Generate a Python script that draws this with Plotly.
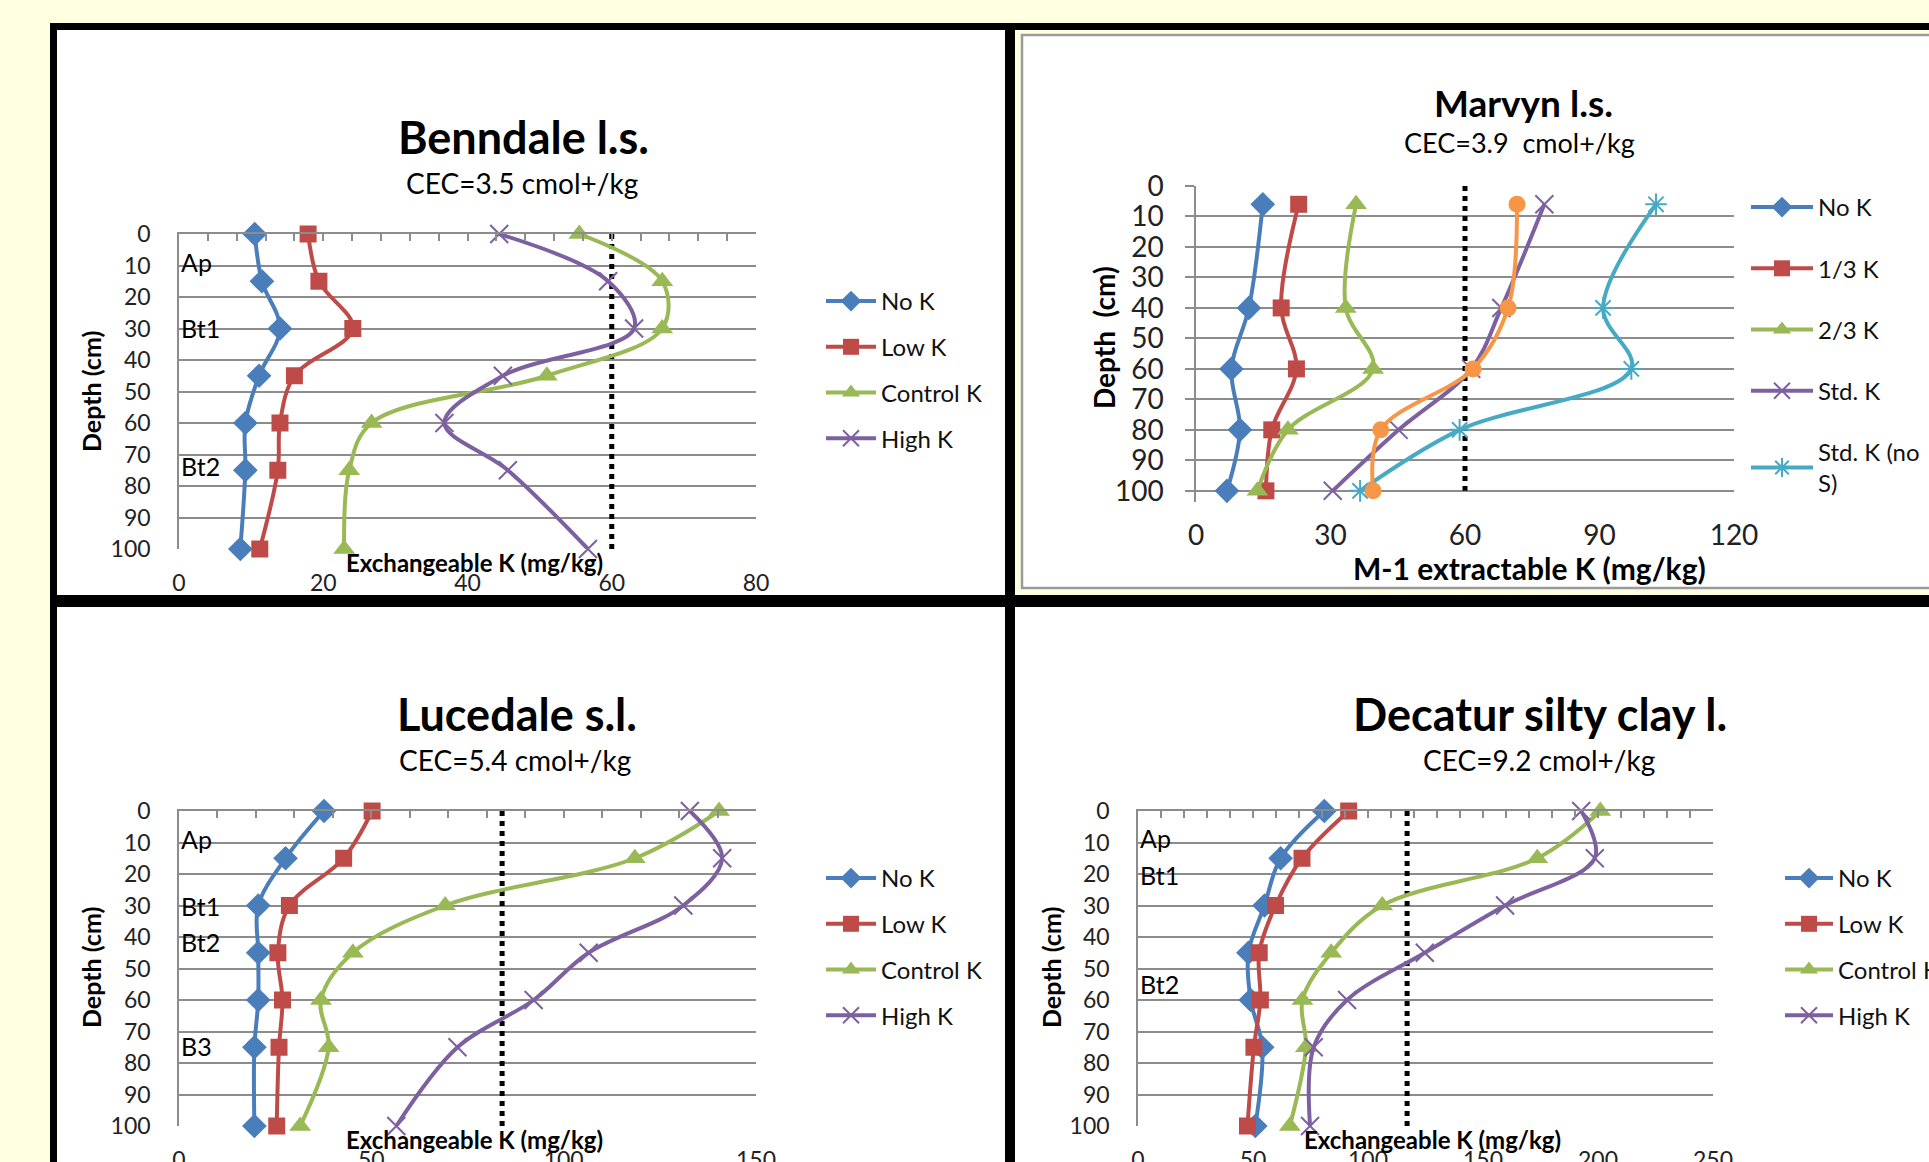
import plotly.graph_objects as go

W, H = 1929, 1162
FONT = "Lato, 'Open Sans', sans-serif"

# ---------------- data ----------------
depth_std = [0, 15, 30, 45, 60, 75, 100]
marvyn_depth = [6, 40, 60, 80, 100]

benndale_no_k = [10.5, 11.5, 14.0, 11.1, 9.2, 9.2, 8.5]
benndale_low_k = [17.9, 19.4, 24.1, 16.0, 14.0, 13.7, 11.2]
benndale_control_k = [55.5, 67.0, 67.0, 51.0, 26.7, 23.6, 22.9]
benndale_high_k = [44.4, 59.5, 63.1, 44.9, 36.8, 45.6, 56.7]

lucedale_no_k = [37.7, 27.7, 20.6, 20.6, 20.6, 19.6, 19.6]
lucedale_low_k = [50.2, 42.8, 28.7, 25.7, 26.9, 26.0, 25.4]
lucedale_control_k = [140.4, 118.5, 69.2, 45.2, 36.9, 38.9, 31.5]
lucedale_high_k = [132.8, 141.2, 131.1, 106.5, 92.2, 72.4, 56.5]

decatur_no_k = [81.0, 62.0, 55.0, 48.0, 49.0, 54.0, 51.0]
decatur_low_k = [91.6, 71.3, 59.8, 52.7, 53.2, 50.4, 47.6]
decatur_control_k = [201.0, 173.6, 106.2, 84.0, 71.5, 73.0, 66.0]
decatur_high_k = [192.7, 198.6, 159.6, 124.7, 90.9, 76.4, 74.8]

marvyn_no_k = [14.9, 11.8, 7.9, 9.8, 6.9]
marvyn_third_k = [22.9, 19.0, 22.4, 16.9, 15.6]
marvyn_two_thirds_k = [35.7, 33.4, 39.5, 20.5, 13.7]
marvyn_std_k = [77.7, 68.1, 61.4, 45.2, 30.5]
marvyn_std_k_no_s = [102.6, 90.8, 97.1, 58.8, 36.6]
marvyn_extra = [71.6, 69.6, 61.8, 41.2, 39.5]

# critical K level (dotted line) per panel: Benndale, Marvyn, Lucedale, Decatur
critical_k = [60, 60, 84, 117]
critical_depth = [0, 100]

treatments_std = ["No K", "Low K", "Control K", "High K"]
treatments_marvyn = ["No K", "1/3 K", "2/3 K", "Std. K", "Std. K (no<br>S)"]

benndale_horizons = ["Ap", "Bt1", "Bt2"]
benndale_horizon_depth = [9, 30, 73.5]
lucedale_horizons = ["Ap", "Bt1", "Bt2", "B3"]
lucedale_horizon_depth = [9, 30, 41.5, 74.5]
decatur_horizons = ["Ap", "Bt1", "Bt2"]
decatur_horizon_depth = [8.7, 20.2, 55]

# ---------------- styles ----------------
BLUE, RED, GREEN, PURPLE, TEAL, ORANGE = "#4A7EBB", "#BE4B48", "#98B954", "#7D60A0", "#46AAC5", "#F79646"
GRID = "#8C8C8C"
YELLOW = "#FFFFE1"


def px_x(p):
    return p / W


def px_y(p):
    return 1 - p / H


def marker_style(kind, color):
    if kind == "diamond":
        return dict(symbol="diamond", size=19, color=color)
    if kind == "square":
        return dict(symbol="square", size=17, color=color)
    if kind == "triangle":
        return dict(symbol="triangle-up", size=19, color=color)
    if kind == "x":
        return dict(symbol="x-thin", size=18, color=color, line=dict(width=2, color=color))
    if kind == "star":
        return dict(symbol="asterisk", size=18, color=color, line=dict(width=2, color=color))
    return dict(symbol="circle", size=17, color=color)


fig = go.Figure()

# panel geometry (pixels)
panels = {
    "1": dict(x0=179, x1=756, ytop=234, ybot=549, xmax=80, dtick=20, minor=4, yr=[100, 0]),
    "2": dict(x0=1196, x1=1734, ytop=186, ybot=501.5, xmax=120, dtick=30, minor=None, yr=[103.5, 0]),
    "3": dict(x0=179, x1=756, ytop=811, ybot=1126, xmax=150, dtick=50, minor=10, yr=[100, 0]),
    "4": dict(x0=1138, x1=1713, ytop=811, ybot=1126, xmax=250, dtick=50, minor=10, yr=[100, 0]),
}

std_sets = {
    "1": [benndale_no_k, benndale_low_k, benndale_control_k, benndale_high_k],
    "3": [lucedale_no_k, lucedale_low_k, lucedale_control_k, lucedale_high_k],
    "4": [decatur_no_k, decatur_low_k, decatur_control_k, decatur_high_k],
}
std_styles = [("diamond", BLUE), ("square", RED), ("triangle", GREEN), ("x", PURPLE)]

legend_name = {"1": "legend", "2": "legend2", "3": "legend3", "4": "legend4"}


def axref(k):
    return ("x", "y") if k == "1" else ("x" + k, "y" + k)


# dotted critical lines first (below series)
for k, crit in zip(["1", "2", "3", "4"], critical_k):
    xa, ya = axref(k)
    fig.add_trace(go.Scatter(x=[crit, crit], y=critical_depth, mode="lines",
                             line=dict(color="black", width=5, dash="dot"),
                             xaxis=xa, yaxis=ya, showlegend=False, hoverinfo="skip"))

for k, sets in std_sets.items():
    xa, ya = axref(k)
    for i, (vals, (kind, col), name) in enumerate(zip(sets, std_styles, treatments_std)):
        fig.add_trace(go.Scatter(
            x=vals, y=depth_std, mode="lines+markers", name=name,
            line=dict(color=col, width=4, shape="spline", smoothing=1.0),
            marker=marker_style(kind, col), xaxis=xa, yaxis=ya,
            legend=legend_name[k], legendgroup=k + str(i), cliponaxis=False))

marvyn_sets = [marvyn_no_k, marvyn_third_k, marvyn_two_thirds_k, marvyn_std_k, marvyn_std_k_no_s]
marvyn_styles = [("diamond", BLUE), ("square", RED), ("triangle", GREEN), ("x", PURPLE), ("star", TEAL)]
for i, (vals, (kind, col), name) in enumerate(zip(marvyn_sets, marvyn_styles, treatments_marvyn)):
    fig.add_trace(go.Scatter(
        x=vals, y=marvyn_depth, mode="lines+markers", name=name,
        line=dict(color=col, width=4, shape="spline", smoothing=1.0),
        marker=marker_style(kind, col), xaxis="x2", yaxis="y2",
        legend="legend2", legendgroup="2" + str(i), cliponaxis=False))
fig.add_trace(go.Scatter(
    x=marvyn_extra, y=marvyn_depth, mode="lines+markers", name="",
    line=dict(color=ORANGE, width=4, shape="spline", smoothing=1.0),
    marker=marker_style("circle", ORANGE), xaxis="x2", yaxis="y2",
    showlegend=False, cliponaxis=False))

layout = dict(
    template="none",
    width=W, height=H, margin=dict(l=0, r=0, t=0, b=0, pad=0, autoexpand=False),
    paper_bgcolor=YELLOW, plot_bgcolor="rgba(0,0,0,0)",
    font=dict(family=FONT, color="black"),
    hovermode=False,
)

# axes
for k, p in panels.items():
    xk = "xaxis" if k == "1" else "xaxis" + k
    yk = "yaxis" if k == "1" else "yaxis" + k
    xa, ya = axref(k)
    big = (k == "2")
    layout[xk] = dict(
        domain=[px_x(p["x0"]), px_x(p["x1"])], anchor=ya, range=[0, p["xmax"]],
        dtick=p["dtick"], tick0=0, showgrid=False, zeroline=False, showline=False,
        ticks="", tickfont=dict(size=28 if big else 23, color="#222"),
        ticklabelstandoff=14 if big else 18, automargin=False,
    )
    layout[yk] = dict(
        domain=[px_y(p["ybot"]), px_y(p["ytop"])], anchor=xa, range=p["yr"],
        dtick=10, tick0=0, showgrid=True, gridcolor=GRID, gridwidth=1.5,
        zeroline=False, showline=True, linecolor=GRID, linewidth=1.5,
        ticks="outside" if big else "", ticklen=9, tickcolor=GRID, tickwidth=1.5,
        tickfont=dict(size=28 if big else 23, color="#222"),
        ticklabelstandoff=16 if big else 22, automargin=False,
    )

# top tick axes (inside ticks along depth 0) for panels 1, 3, 4
extra = {"1": "5", "3": "6", "4": "7"}
for k, n in extra.items():
    p = panels[k]
    xa, ya = axref(k)
    layout["xaxis" + n] = dict(
        domain=[px_x(p["x0"]), px_x(p["x1"])], anchor=ya, overlaying=xa, side="top",
        range=[0, p["xmax"]], dtick=p["minor"], tick0=0, showgrid=False, zeroline=False,
        showline=True, linecolor=GRID, linewidth=1.5, ticks="inside", ticklen=7,
        tickcolor=GRID, tickwidth=1.5, showticklabels=False, automargin=False,
    )
    fig.add_trace(go.Scatter(x=[None], y=[None], xaxis="x" + n, yaxis=ya,
                             showlegend=False, hoverinfo="skip"))

# legends
legend_geo = {
    "legend": dict(x=821, y=279, size=24, gap=11.5, w=50),
    "legend3": dict(x=821, y=856, size=24, gap=11.5, w=50),
    "legend4": dict(x=1780, y=856, size=24, gap=11.5, w=48),
    "legend2": dict(x=1746, y=185, size=24, gap=27, w=62),
}
for key, g in legend_geo.items():
    layout[key] = dict(
        x=px_x(g["x"]), y=px_y(g["y"]), xanchor="left", yanchor="top",
        bgcolor="rgba(0,0,0,0)", borderwidth=0, font=dict(size=g["size"], family=FONT, color="#111"),
        tracegroupgap=g["gap"], itemwidth=g["w"], traceorder="grouped",
    )

# frames (shapes in paper coords)
def rect(x0, y0, x1, y1, fill, line_color=None, lw=0):
    return dict(type="rect", xref="paper", yref="paper", layer="below",
                x0=px_x(x0), x1=px_x(x1), y0=px_y(y1), y1=px_y(y0),
                fillcolor=fill, line=dict(color=line_color or fill, width=lw))

shapes = [
    rect(50, 23, 2100, 1300, "black"),
    rect(57, 30, 1005, 595, "white"),
    rect(1015, 30, 2100, 595, YELLOW),
    rect(1022, 35, 2100, 588, "white", "#9A9A9A", 2.5),
    rect(57, 607, 1005, 1300, "white"),
    rect(1015, 607, 2100, 1300, "white"),
]
layout["shapes"] = shapes

# annotations: titles, subtitles, axis titles, depth labels
ann = []

def text(x, y, s, size, bold=False, angle=0, xanchor="center"):
    ann.append(dict(xref="paper", yref="paper", x=px_x(x), y=px_y(y), text=("<b>%s</b>" % s) if bold else s,
                    showarrow=False, xanchor=xanchor, yanchor="middle", textangle=angle,
                    font=dict(size=size, family=FONT, color="black")))

text(523, 137, "Benndale l.s.", 45, True)
text(522, 183, "CEC=3.5 cmol+/kg", 28)
text(474, 562, "Exchangeable K (mg/kg)", 24, True)
text(91, 392, "Depth (cm)", 25, True, -90)

text(1523, 102, "Marvyn l.s.", 37, True)
text(1519, 142, "CEC=3.9  cmol+/kg", 27)
text(1529, 568, "M-1 extractable K (mg/kg)", 30, True)
text(1104, 338, "Depth  (cm)", 28, True, -90)

text(517, 714, "Lucedale s.l.", 45, True)
text(515, 760, "CEC=5.4 cmol+/kg", 28)
text(474, 1139, "Exchangeable K (mg/kg)", 24, True)
text(91, 968, "Depth (cm)", 25, True, -90)

text(1540, 714, "Decatur silty clay l.", 45, True)
text(1539, 760, "CEC=9.2 cmol+/kg", 28)
text(1432, 1139, "Exchangeable K (mg/kg)", 24, True)
text(1051, 968, "Depth (cm)", 25, True, -90)

# soil horizon labels (data coords)
for k, names, depths in [("1", benndale_horizons, benndale_horizon_depth),
                         ("3", lucedale_horizons, lucedale_horizon_depth),
                         ("4", decatur_horizons, decatur_horizon_depth)]:
    xa, ya = axref(k)
    for nm, d in zip(names, depths):
        ann.append(dict(xref=xa, yref=ya, x=0, y=d, text=nm, showarrow=False,
                        xanchor="left", yanchor="middle", xshift=0,
                        font=dict(size=25, family=FONT, color="black")))

layout["annotations"] = ann
fig.update_layout(**layout)

fig.write_html("out.html", config={"displayModeBar": False},
               post_script="document.body.style.margin='0';document.body.style.overflow='hidden';")
